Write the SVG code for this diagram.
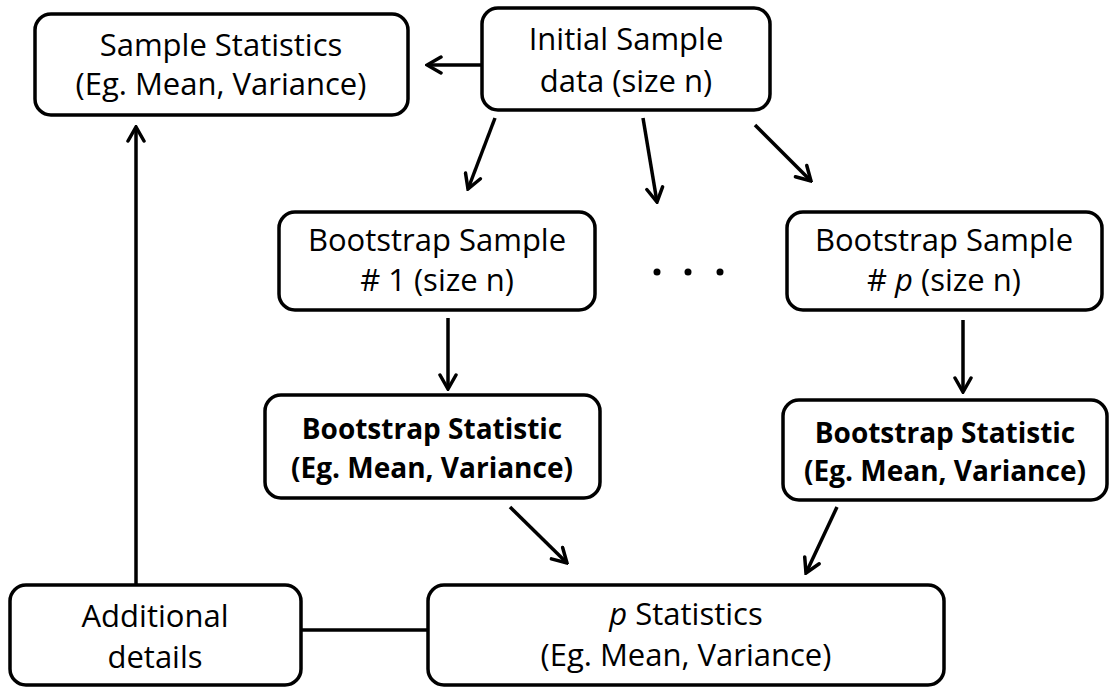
<svg xmlns="http://www.w3.org/2000/svg" width="1109" height="687" viewBox="0 0 1109 687">
<defs>
<marker id="ah" viewBox="0 0 20 20" refX="18" refY="10" markerWidth="20" markerHeight="20" markerUnits="userSpaceOnUse" orient="auto">
<path d="M4,2 L18,10 L4,18" fill="none" stroke="#000" stroke-width="3.5" stroke-linecap="round" stroke-linejoin="miter"/>
</marker>
<style>
.box{fill:#fff;stroke:#000;stroke-width:3.5}
.t{font-family:"Open Sans",Lato,sans-serif;font-size:31px;fill:#000;text-anchor:middle}
.b{font-family:"Open Sans",Lato,sans-serif;font-size:28px;font-weight:bold;fill:#000;text-anchor:middle}
.c{stroke:#000;stroke-width:3.5;fill:none}
</style>
</defs>
<rect width="1109" height="687" fill="#fff"/>
<g id="connectors">
<line class="c" x1="482" y1="65" x2="427" y2="65" marker-end="url(#ah)"/>
<line class="c" x1="495" y1="118" x2="468" y2="189" marker-end="url(#ah)"/>
<line class="c" x1="643" y1="118" x2="657" y2="202" marker-end="url(#ah)"/>
<line class="c" x1="755" y1="125" x2="811" y2="181" marker-end="url(#ah)"/>
<line class="c" x1="448" y1="318" x2="448" y2="389" marker-end="url(#ah)"/>
<line class="c" x1="963" y1="320" x2="963" y2="392" marker-end="url(#ah)"/>
<line class="c" x1="510" y1="507" x2="567" y2="563" marker-end="url(#ah)"/>
<line class="c" x1="837" y1="507" x2="806" y2="573" marker-end="url(#ah)"/>
<line class="c" x1="301" y1="630" x2="428" y2="630"/>
<line class="c" x1="136" y1="585" x2="136" y2="127" marker-end="url(#ah)"/>
</g>
<g id="sample-stats">
<rect class="box" x="35" y="14" width="373" height="101" rx="16"/>
<text class="t" x="221" y="56">Sample Statistics</text>
<text class="t" x="221" y="95">(Eg. Mean, Variance)</text>
</g>
<g id="initial-sample">
<rect class="box" x="482" y="8" width="288" height="102" rx="16"/>
<text class="t" x="626" y="50">Initial Sample</text>
<text class="t" x="626" y="92">data (size n)</text>
</g>
<g id="boot-sample-1">
<rect class="box" x="279" y="212" width="316" height="98" rx="16"/>
<text class="t" x="437" y="251">Bootstrap Sample</text>
<text class="t" x="437" y="291"># 1 (size n)</text>
</g>
<g id="dots">
<circle cx="657" cy="272" r="3.5"/>
<circle cx="688" cy="272" r="3.5"/>
<circle cx="720" cy="272" r="3.5"/>
</g>
<g id="boot-sample-p">
<rect class="box" x="787" y="212" width="315" height="98" rx="16"/>
<text class="t" x="944" y="251">Bootstrap Sample</text>
<text class="t" x="944" y="291"># <tspan font-style="italic">p</tspan> (size n)</text>
</g>
<g id="boot-stat-1">
<rect class="box" x="265" y="395" width="335" height="103" rx="16"/>
<text class="b" x="432" y="439">Bootstrap Statistic</text>
<text class="b" x="432" y="478">(Eg. Mean, Variance)</text>
</g>
<g id="boot-stat-p">
<rect class="box" x="783" y="400" width="324" height="100" rx="16"/>
<text class="b" x="945" y="443">Bootstrap Statistic</text>
<text class="b" x="945" y="481">(Eg. Mean, Variance)</text>
</g>
<g id="p-stats">
<rect class="box" x="428" y="585" width="516" height="100" rx="16"/>
<text class="t" x="686" y="625"><tspan font-style="italic">p</tspan> Statistics</text>
<text class="t" x="686" y="666">(Eg. Mean, Variance)</text>
</g>
<g id="additional">
<rect class="box" x="10" y="585" width="291" height="100" rx="16"/>
<text class="t" x="155" y="627">Additional</text>
<text class="t" x="155" y="668">details</text>
</g>
</svg>
